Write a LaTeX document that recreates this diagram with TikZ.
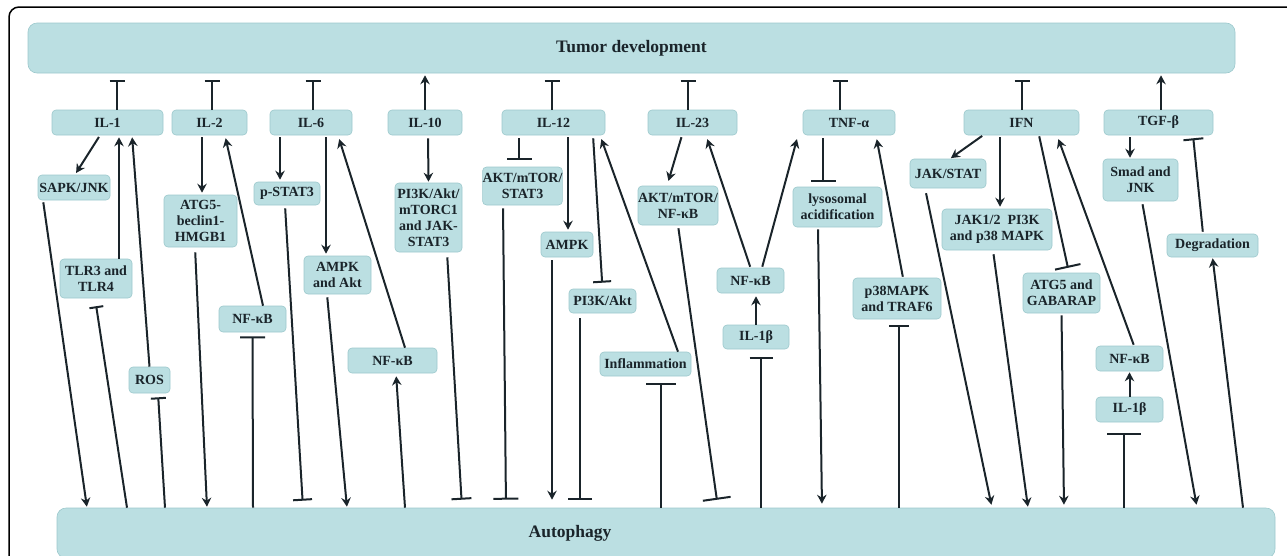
\documentclass[tikz,border=0pt]{standalone}
\usepackage{fontspec}
\setmainfont{Liberation Serif}
\usetikzlibrary{arrows.meta}
\definecolor{boxfill}{HTML}{BBDFE2}
\definecolor{boxline}{HTML}{9CC8CC}
\definecolor{ink}{HTML}{1A242A}
\newcommand\mybox[6]{\node[box, minimum width=#4, minimum height=#5] (#1) at (#2,#3) {#6};}
\begin{document}
\begin{tikzpicture}[x=1pt,y=-1pt,
  box/.style={draw=boxline, line width=0.6pt, fill=boxfill, rounded corners=4pt, inner sep=0pt, align=center, text=ink, font=\bfseries\fontsize{14}{16}\selectfont},
  bigbox/.style={box, rounded corners=9pt, font=\bfseries\fontsize{17.5}{20}\selectfont},
  act/.style={line width=2pt, draw=ink, -{Stealth[length=9pt,width=9.5pt,inset=3pt]}, shorten <=2pt, shorten >=2pt},
  inh/.style={line width=2pt, draw=ink, -{Bar[width=#1]}, shorten <=2pt},
  inh/.default=15pt,
  frame/.style={line width=1.5pt, draw=black, rounded corners=10pt}]
\useasboundingbox (0,0) rectangle (1287,555);
\clip (0,0) rectangle (1287,555);
\draw[frame] (9,570) -- (9,7) -- (1300,7);
% big boxes
\node[bigbox, minimum width=1207, minimum height=50] (top) at (631.5,48) {Tumor development};
\node[bigbox, minimum width=1218, minimum height=50] (auto) at (666,533) {};
\node[text=ink, font=\bfseries\fontsize{17.5}{20}\selectfont, inner sep=0pt] (autolabel) at (570,533) {Autophagy};
% cytokines
\mybox{il1}{107.5}{122.5}{111}{25}{IL-1}
\mybox{il2}{209.5}{122.5}{75}{25}{IL-2}
\mybox{il6}{311}{122.5}{82}{25}{IL-6}
\mybox{il10}{425}{122.5}{74}{25}{IL-10}
\mybox{il12}{553.5}{122.5}{103}{25}{IL-12}
\mybox{il23}{692.5}{122.5}{89}{25}{IL-23}
\mybox{tnf}{849}{122.5}{92}{25}{TNF-α}
\mybox{ifn}{1021.5}{122.5}{115}{25}{IFN}
\mybox{tgf}{1158.5}{122.5}{109}{25}{TGF-β}
% intermediates
\mybox{sapk}{74}{187.5}{72}{25}{SAPK/JNK}
\mybox{tlr}{96}{278.5}{72}{39}{TLR3 and\\TLR4}
\mybox{ros}{149.5}{380}{41}{26}{ROS}
\mybox{atgb}{200.5}{221}{73}{52}{ATG5-\\beclin1-\\HMGB1}
\mybox{nfkbb}{252.5}{319}{67}{26}{NF-κB}
\mybox{pstat}{287}{193.5}{66}{23}{p-STAT3}
\mybox{ampkakt}{337.5}{275}{67}{38}{AMPK\\and Akt}
\mybox{nfkbc}{392.5}{360.5}{89}{25}{NF-κB}
\mybox{pitk}{428.5}{217.5}{67}{69}{PI3K/Akt/\\mTORC1\\and JAK-\\STAT3}
\mybox{aktstat}{522.5}{186}{79}{38}{AKT/mTOR/\\STAT3}
\mybox{ampk}{567}{244.5}{52}{25}{AMPK}
\mybox{piakt}{602.5}{301}{67}{24}{PI3K/Akt}
\mybox{inflam}{645.5}{364}{91}{24}{Inflammation}
\mybox{aktnf}{678}{205.5}{80}{39}{AKT/mTOR/\\NF-κB}
\mybox{nfkbd}{750.5}{280.5}{67}{25}{NF-κB}
\mybox{ilbd}{756}{337}{66}{24}{IL-1β}
\mybox{lyso}{837.5}{207}{89}{40}{lysosomal\\acidification}
\mybox{ptraf}{897}{298.5}{88}{41}{p38MAPK\\and TRAF6}
\mybox{jakstat}{948}{173.5}{76}{29}{JAK/STAT}
\mybox{jakpi}{997}{229.5}{110}{41}{JAK1/2\ \ PI3K\\and p38 MAPK}
\mybox{atgg}{1061.5}{293}{77}{40}{ATG5 and\\GABARAP}
\mybox{nfkbe}{1129.5}{358.5}{67}{25}{NF-κB}
\mybox{ilbe}{1129.5}{409.5}{67}{25}{IL-1β}
\mybox{smad}{1140.5}{180}{75}{42}{Smad and\\JNK}
\mybox{degr}{1212.5}{245.5}{91}{23}{Degradation}
% cytokines -> tumor development
\draw[inh, shorten <=0pt, shorten >=7pt] ([xshift=9.5]il1.north) -- ([xshift=-514.5]top.south);
\draw[inh, shorten <=0pt, shorten >=7pt] ([xshift=2.5]il2.north) -- ([xshift=-419.5]top.south);
\draw[inh, shorten <=0pt, shorten >=7pt] ([xshift=2]il6.north) -- ([xshift=-318.5]top.south);
\draw[act, shorten <=0pt] (il10.north) -- ([xshift=-206.5]top.south);
\draw[inh, shorten <=0pt, shorten >=7pt] ([xshift=-1.5]il12.north) -- ([xshift=-79.5]top.south);
\draw[inh, shorten <=0pt, shorten >=7pt] ([xshift=-4.5]il23.north) -- ([xshift=56.5]top.south);
\draw[inh, shorten <=0pt, shorten >=7pt] ([xshift=-9]tnf.north) -- ([xshift=208.5]top.south);
\draw[inh, shorten <=0pt, shorten >=7pt] ([xshift=0.5]ifn.north) -- ([xshift=390.5]top.south);
\draw[act, shorten <=0pt] ([xshift=2.5]tgf.north) -- ([xshift=529.5]top.south);
% IL-1
\draw[act] ([xshift=-7.5]il1.south) -- ([xshift=1]sapk.north);
\draw[act, shorten >=1pt] ([xshift=-31]sapk.south) -- ([xshift=-579]auto.north);
\draw[act, shorten <=0pt] ([xshift=23]tlr.north) -- ([xshift=11.5]il1.south);
\draw[act, shorten <=0pt] (ros.north) -- ([xshift=24.5]il1.south);
\draw[inh=14pt, shorten <=0pt, shorten >=8pt] ([xshift=-539]auto.north) -- ([xshift=-1]tlr.south);
\draw[inh=15pt, shorten <=0pt, shorten >=4pt] ([xshift=-501]auto.north) -- ([xshift=8.5]ros.south);
% IL-2
\draw[act] ([xshift=-7.5]il2.south) -- ([xshift=1.5]atgb.north);
\draw[act, shorten <=5pt, shorten >=1pt] ([xshift=-5.5]atgb.south) -- ([xshift=-459]auto.north);
\draw[act, shorten <=0pt, shorten >=3pt] ([xshift=10.5]nfkbb.north) -- ([xshift=15.5]il2.south);
\draw[inh=25pt, shorten <=0pt, shorten >=4pt] ([xshift=-413]auto.north) -- (nfkbb.south);
% IL-6
\draw[act] ([xshift=-31]il6.south) -- ([xshift=-7]pstat.north);
\draw[inh=19pt, shorten <=3pt, shorten >=7pt] ([xshift=-2]pstat.south) -- ([xshift=-363]auto.north);
\draw[act] ([xshift=15]il6.south) -- ([xshift=-11.5]ampkakt.north);
\draw[act, shorten <=3pt, shorten >=1pt] ([xshift=-10.5]ampkakt.south) -- ([xshift=-319]auto.north);
\draw[act, shorten <=0pt, shorten >=4pt] ([xshift=12.5]nfkbc.north) -- ([xshift=27]il6.south);
\draw[act, shorten <=0pt, shorten >=3pt] ([xshift=-261]auto.north) -- ([xshift=3.5]nfkbc.south);
% IL-10
\draw[act, shorten <=3pt, shorten >=1pt] ([xshift=3]il10.south) -- (pitk.north);
\draw[inh=20pt, shorten <=5pt, shorten >=8pt] ([xshift=18.5]pitk.south) -- ([xshift=-204]auto.north);
% IL-12
\draw[inh=25pt, shorten <=3pt, shorten >=7pt] ([xshift=-34.5]il12.south) -- ([xshift=-3.5]aktstat.north);
\draw[inh=25pt, shorten <=3pt, shorten >=8pt] ([xshift=-19.5]aktstat.south) -- ([xshift=-160]auto.north);
\draw[act] ([xshift=14.5]il12.south) -- ([xshift=1]ampk.north);
\draw[act, shorten <=3pt, shorten >=8pt] ([xshift=-15]ampk.south) -- ([xshift=-114]auto.north);
\draw[inh=18pt, shorten <=3pt, shorten >=6pt] ([xshift=39.5]il12.south) -- (piakt.north);
\draw[inh=24pt, shorten <=5pt, shorten >=8pt] ([xshift=-22.5]piakt.south) -- ([xshift=-86]auto.north);
\draw[act, shorten <=0pt, shorten >=4pt] ([xshift=32.5]inflam.north) -- ([xshift=46.5]il12.south);
\draw[inh=30pt, shorten <=0pt, shorten >=7pt] ([xshift=-5]auto.north) -- ([xshift=15.5]inflam.south);
% IL-23
\draw[act, shorten >=5pt] ([xshift=-10.5]il23.south) -- ([xshift=-11]aktnf.north);
\draw[inh=28pt, shorten <=3pt, shorten >=8pt] (aktnf.south) -- ([xshift=52]auto.north);
\draw[act, shorten <=1pt, shorten >=4pt] (nfkbd.north) -- ([xshift=13.5]il23.south);
\draw[act, shorten <=1pt, shorten >=4pt] ([xshift=11.5]nfkbd.north) -- ([xshift=-51]tnf.south);
\draw[act, shorten <=0pt, shorten >=3pt] (ilbd.north) -- ([xshift=5.5]nfkbd.south);
\draw[inh=23pt, shorten <=0pt, shorten >=8pt] ([xshift=95]auto.north) -- ([xshift=5]ilbd.south);
% TNF
\draw[inh=25pt, shorten <=3pt, shorten >=5pt] ([xshift=-26]tnf.south) -- ([xshift=-14.5]lyso.north);
\draw[act, shorten <=2pt, shorten >=4pt] ([xshift=-19.5]lyso.south) -- ([xshift=156]auto.north);
\draw[act, shorten <=1pt, shorten >=4pt] ([xshift=6]ptraf.north) -- ([xshift=27]tnf.south);
\draw[inh=20pt, shorten <=0pt, shorten >=6pt] ([xshift=233]auto.north) -- ([xshift=2]ptraf.south);
% IFN
\draw[act, shorten <=1pt, shorten >=1pt] ([xshift=-38.5]ifn.south) -- ([xshift=2]jakstat.north);
\draw[act, shorten <=5pt, shorten >=3pt] ([xshift=-23]jakstat.south) -- ([xshift=326]auto.north);
\draw[act, shorten <=2pt, shorten >=2pt] ([xshift=-21.5]ifn.south) -- ([xshift=3]jakpi.north);
\draw[act, shorten <=4pt, shorten >=1pt] ([xshift=-4]jakpi.south) -- ([xshift=362]auto.north);
\draw[inh=26pt, shorten <=1pt, shorten >=5pt] ([xshift=17.5]ifn.south) -- ([xshift=7.5]atgg.north);
\draw[act, shorten <=2pt, shorten >=3pt] (atgg.south) -- ([xshift=398]auto.north);
\draw[act, shorten <=1pt, shorten >=4pt] ([xshift=4.5]nfkbe.north) -- ([xshift=35.5]ifn.south);
\draw[act, shorten <=0pt, shorten >=1pt] (ilbe.north) -- (nfkbe.south);
\draw[inh=34pt, shorten <=0pt, shorten >=11pt] ([xshift=458]auto.north) -- ([xshift=-5.5]ilbe.south);
% TGF
\draw[act, shorten >=1pt] ([xshift=-28.5]tgf.south) -- ([xshift=-10.5]smad.north);
\draw[act, shorten <=3pt, shorten >=3pt] ([xshift=1.5]smad.south) -- ([xshift=531]auto.north);
\draw[act, shorten <=0pt, shorten >=1pt] ([xshift=577]auto.north) -- (degr.south);
\draw[inh=20pt, shorten <=2pt, shorten >=3pt] ([xshift=-9.5]degr.north) -- ([xshift=34.5]tgf.south);
\end{tikzpicture}
\end{document}
